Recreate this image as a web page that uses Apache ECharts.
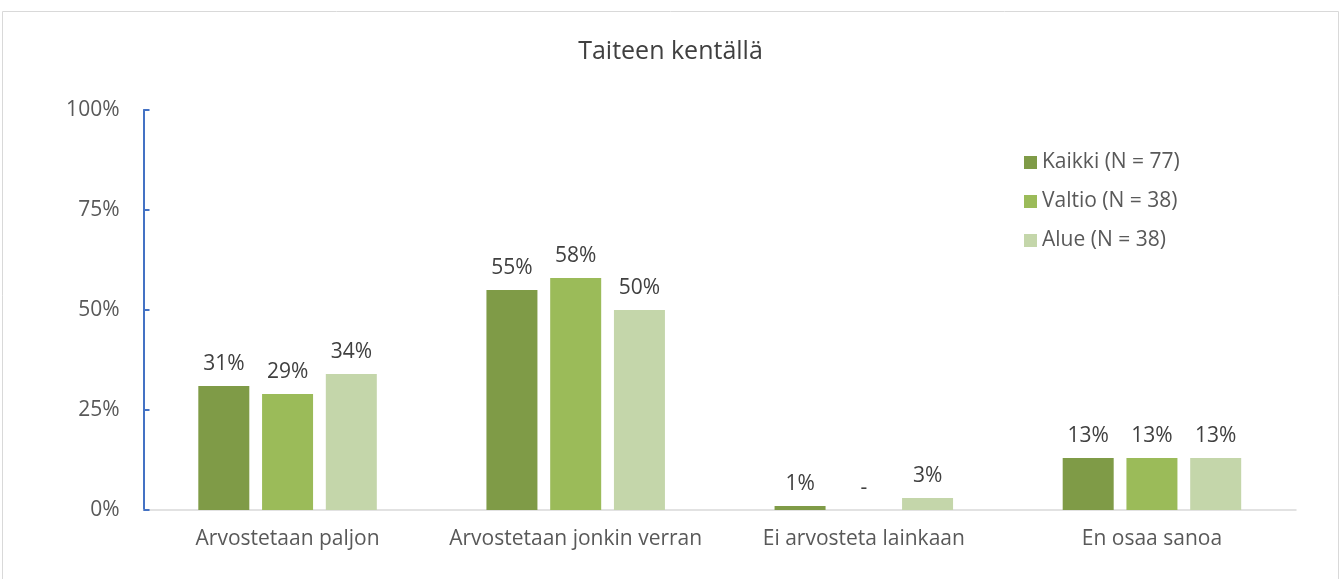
<!DOCTYPE html>
<html><head><meta charset="utf-8">
<script src="https://cdn.jsdelivr.net/npm/echarts@6/dist/echarts.min.js"></script>
<style>html,body{margin:0;padding:0;background:#fff}#c{width:1341px;height:579px}</style>
</head><body><div id="c"></div>
<script>
const categories = ['Arvostetaan paljon','Arvostetaan jonkin verran','Ei arvosteta lainkaan','En osaa sanoa'];
const seriesNames = ['Kaikki (N = 77)','Valtio (N = 38)','Alue (N = 38)'];
const kaikki = [31,55,1,13];
const valtio = [29,58,0,13];
const alue = [34,50,3,13];
const yTicks = [0,25,50,75,100];
const colors = ['#7F9B47','#9BBB59','#C4D6AA'];
const FONT = 'Open Sans';
const chart = echarts.init(document.getElementById('c'));
const mk = (name, data, i) => ({
  name, type:'bar', data, barWidth:51, barGap:'25%',
  itemStyle:{color:colors[i]},
  label:{show:true, position:'top', distance:11, color:'#404040', fontSize:21, fontFamily:FONT,
    formatter:p => p.value===0 ? '-' : p.value+'%'}
});
chart.setOption({
  animation:false,
  textStyle:{fontFamily:FONT},
  title:{text:'Taiteen kentällä', left:'center', top:34, textStyle:{fontSize:25, fontWeight:'normal', color:'#404040', fontFamily:FONT}},
  graphic:[{type:'rect', shape:{x:2.5,y:11.5,width:1336,height:580}, style:{fill:'none', stroke:'#d9d9d9', lineWidth:1}, silent:true}],
  legend:{orient:'vertical', left:1019, top:147, itemGap:18, itemWidth:13, itemHeight:13, icon:'rect',
    textStyle:{fontSize:21, color:'#595959', fontFamily:FONT}},
  grid:{left:143.5, right:45, top:110, bottom:69, containLabel:false},
  xAxis:{type:'category', data:categories,
    axisLine:{lineStyle:{color:'#d9d9d9', width:1.5}}, axisTick:{show:false},
    axisLabel:{interval:0, fontSize:21, color:'#595959', margin:19, fontFamily:FONT}},
  yAxis:{type:'value', min:0, max:100, interval:25,
    axisLine:{show:true, lineStyle:{color:'#4472C4', width:2}},
    axisTick:{show:true, inside:true, length:6, lineStyle:{color:'#4472C4', width:2}},
    splitLine:{show:false},
    axisLabel:{fontSize:21, color:'#595959', margin:24, fontFamily:FONT,
      formatter:v => yTicks.includes(v) ? v+'%' : ''}},
  series:[mk(seriesNames[0],kaikki,0), mk(seriesNames[1],valtio,1), mk(seriesNames[2],alue,2)]
});
</script></body></html>
